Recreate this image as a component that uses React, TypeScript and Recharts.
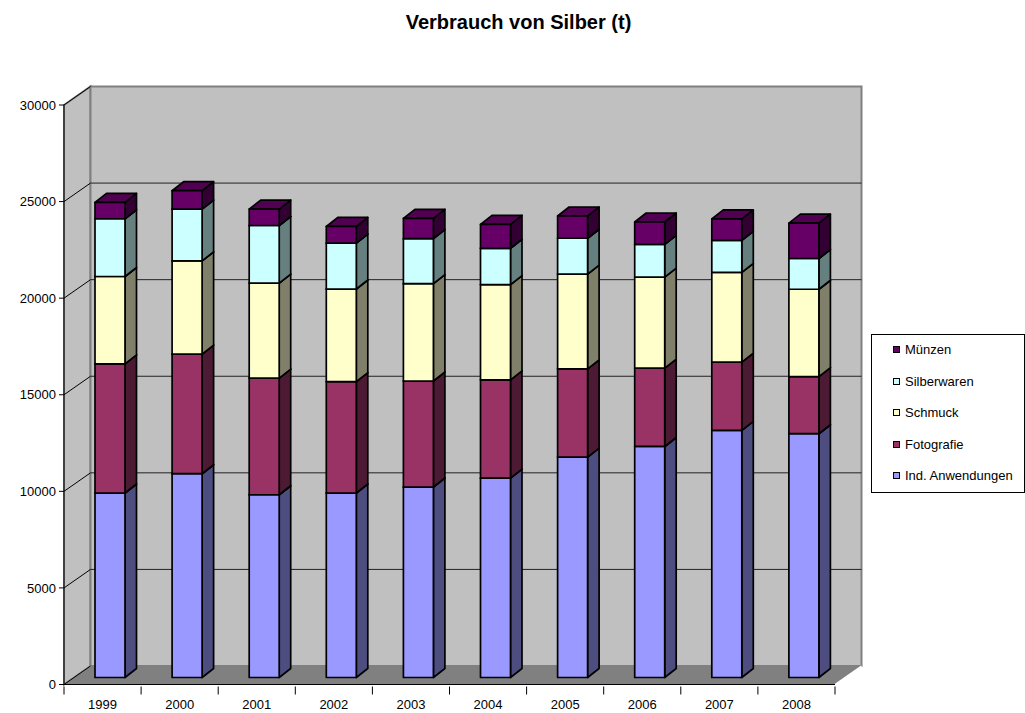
import React from "react";
import { Bar, BarChart, ReferenceArea, ReferenceLine, XAxis, YAxis } from "recharts";

// Verbrauch von Silber (t) — gestapelte 3D-Säulen im Excel-Stil.

const years = ["1999", "2000", "2001", "2002", "2003", "2004", "2005", "2006", "2007", "2008"];
const indAnwendungen = [9550, 10550, 9460, 9550, 9860, 10320, 11410, 11960, 12790, 12620];
const fotografie = [6690, 6190, 6040, 5770, 5490, 5090, 4570, 4060, 3540, 2960];
const schmuck = [4520, 4830, 4920, 4790, 5040, 4930, 4900, 4710, 4640, 4520];
const silberwaren = [2990, 2680, 2980, 2380, 2330, 1880, 1860, 1690, 1660, 1590];
const muenzen = [845, 950, 850, 860, 1050, 1240, 1150, 1160, 1110, 1830];
const yTicks = [0, 5000, 10000, 15000, 20000, 25000, 30000];
const gridTicks = [5000, 10000, 15000, 20000, 25000];

const series = [
  { key: "ind", name: "Ind. Anwendungen", values: indAnwendungen, fill: "#9999ff", side: "#4d4d80", top: "#7a7acc" },
  { key: "foto", name: "Fotografie", values: fotografie, fill: "#993366", side: "#4d1a33", top: "#7a2952" },
  { key: "schmuck", name: "Schmuck", values: schmuck, fill: "#ffffcc", side: "#80806a", top: "#ccccA3" },
  { key: "silber", name: "Silberwaren", values: silberwaren, fill: "#ccffff", side: "#668080", top: "#a3cccc" },
  { key: "muenzen", name: "Münzen", values: muenzen, fill: "#660066", side: "#330033", top: "#520052" },
];

const data = years.map((year, i) => {
  const row: Record<string, string | number> = { year };
  series.forEach((s) => (row[s.key] = s.values[i]));
  return row;
});

const FONT = "'Liberation Sans', Arial, sans-serif";
// wall depth, bar offset from front plane, bar depth
const DX = 26.5, DY = 18.5;
const BX = 7, BY = 7;
const SX = 11.5, SY = 9;

function Prism(props: any) {
  const { x, y, width, height, fill, side, top } = props;
  if (!height || height <= 0) return null;
  const x0 = x + BX;
  const y0 = y - BY;
  const x1 = x0 + width;
  const y1 = y0 + height;
  const st = { stroke: "#000", strokeWidth: 1.7, strokeLinejoin: "round" as const };
  return (
    <g>
      <polygon points={`${x1},${y1} ${x1 + SX},${y1 - SY} ${x1 + SX},${y0 - SY} ${x1},${y0}`} fill={side} {...st} />
      <polygon points={`${x0},${y0} ${x1},${y0} ${x1 + SX},${y0 - SY} ${x0 + SX},${y0 - SY}`} fill={top} {...st} />
      <rect x={x0} y={y0} width={width} height={height} fill={fill} {...st} />
    </g>
  );
}

function Walls(props: any) {
  const { x, y, width, height } = props;
  const r = x + width;
  const b = y + height;
  return (
    <g>
      <polygon points={`${x},${y} ${x + DX},${y - DY} ${x + DX},${b - DY} ${x},${b}`} fill="#c0c0c0" stroke="#808080" strokeWidth={2} />
      <rect x={x + DX} y={y - DY} width={width} height={height} fill="#c0c0c0" stroke="#808080" strokeWidth={2} />
      <polygon points={`${x},${b} ${r},${b} ${r + DX},${b - DY} ${x + DX},${b - DY}`} fill="#808080" />
      <line x1={r} y1={b} x2={r + DX} y2={b - DY} stroke="#ffffff" strokeWidth={1.5} />
    </g>
  );
}

function GridLine(props: any) {
  const { x1, y1, x2, back } = props;
  const xl = Math.min(x1, x2);
  const xr = Math.max(x1, x2);
  return (
    <g>
      <line x1={xl} y1={y1} x2={xl + DX} y2={y1 - DY} stroke="#000" strokeWidth={1} />
      {back && <line x1={xl + DX} y1={y1 - DY} x2={xr + DX} y2={y1 - DY} stroke="#222" strokeWidth={1} />}
    </g>
  );
}

function XTick(props: any) {
  const { x, y, payload, index } = props;
  const off = payload.offset || 0;
  return (
    <g>
      <line x1={x - off} y1={y} x2={x - off} y2={y + 8} stroke="#000" />
      {index === years.length - 1 && <line x1={x + off} y1={y} x2={x + off} y2={y + 8} stroke="#000" />}
      <text x={x} y={y + 22.5} textAnchor="middle" fontSize={13} fontFamily={FONT} fill="#000">
        {payload.value}
      </text>
    </g>
  );
}

export default function App() {
  return (
    <div style={{ position: "absolute", left: 0, top: 0, width: 1025, height: 713, background: "#fff", fontFamily: FONT }}>
      <div style={{ position: "absolute", left: 0, top: 11, width: 1037, textAlign: "center", fontSize: 20, fontWeight: "bold" }}>
        Verbrauch von Silber (t)
      </div>
      <BarChart width={1025} height={713} data={data} margin={{ top: 105, right: 190, bottom: 0, left: 0 }}>
        <ReferenceArea y1={0} y2={30000} zIndex={-20} shape={(p: any) => <Walls {...p} />} />
        {yTicks.map((t) => (
          <ReferenceLine key={t} y={t} zIndex={-10} shape={(p: any) => <GridLine {...p} back={gridTicks.includes(t)} />} />
        ))}
        <XAxis dataKey="year" height={28.5} tickSize={0} tickLine={false} axisLine={{ stroke: "#000" }} tick={<XTick />} interval={0} />
        <YAxis
          domain={[0, 30000]}
          ticks={yTicks}
          width={64}
          interval={0}
          tickSize={5}
          tickMargin={3}
          axisLine={{ stroke: "#000" }}
          tickLine={{ stroke: "#000" }}
          tick={{ fill: "#000", fontSize: 13, fontFamily: FONT }}
        />
        {series.map((s) => (
          <Bar
            key={s.key}
            dataKey={s.key}
            name={s.name}
            stackId="a"
            barSize={30}
            fill={s.fill}
            isAnimationActive={false}
            shape={(p: any) => <Prism {...p} side={s.side} top={s.top} />}
          />
        ))}
      </BarChart>
      <div style={{ position: "absolute", left: 871, top: 334, width: 152, height: 157, border: "1px solid #000", background: "#fff" }}>
        {[...series].reverse().map((s, i) => (
          <div key={s.key} style={{ position: "absolute", left: 21, top: 7 + i * 31.5, display: "flex", alignItems: "center", fontSize: 13, whiteSpace: "nowrap" }}>
            <span style={{ width: 5, height: 5, background: s.fill, border: "1.5px solid #000", marginRight: 5 }} />
            {s.name}
          </div>
        ))}
      </div>
    </div>
  );
}
